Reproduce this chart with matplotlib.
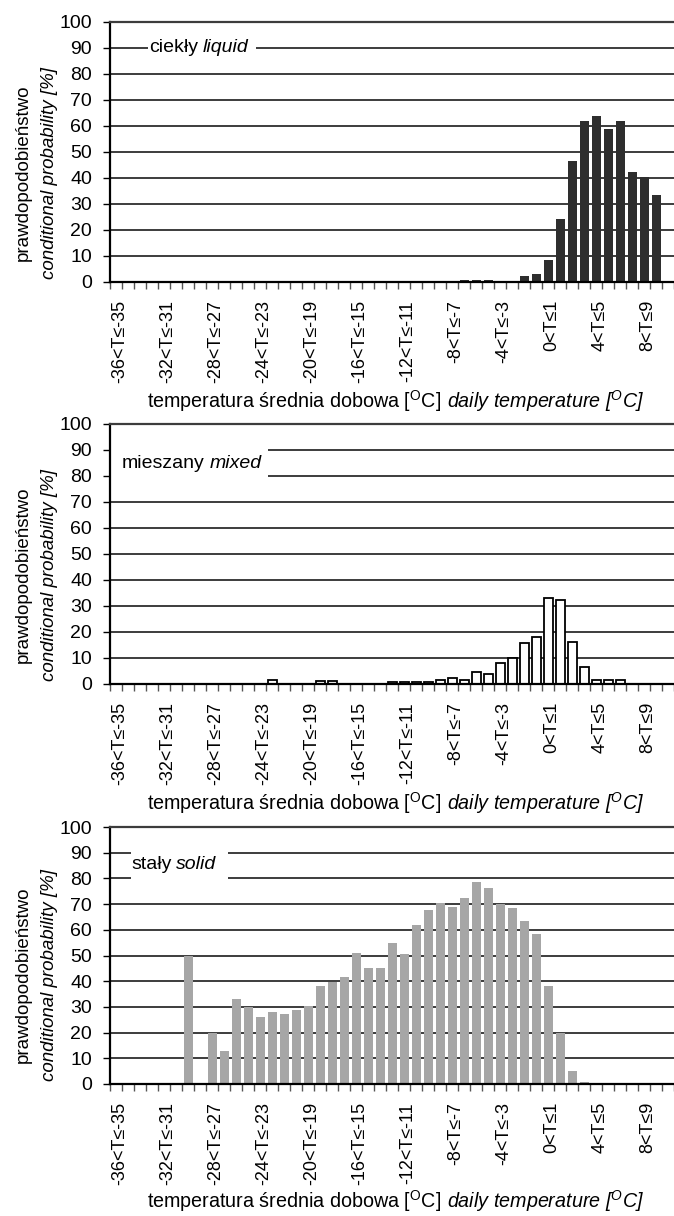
import numpy as np
import matplotlib.pyplot as plt
from matplotlib.patches import Rectangle
from matplotlib.transforms import ScaledTranslation

plt.rcParams['font.family'] = ['Liberation Sans', 'DejaVu Sans']
plt.rcParams['mathtext.fontset'] = 'custom'
plt.rcParams['mathtext.rm'] = 'Liberation Sans'
plt.rcParams['mathtext.it'] = 'Liberation Sans:italic'
plt.rcParams['mathtext.bf'] = 'Liberation Sans:bold'

# temperature classes t<T<=t+1, t = -36 ... 10
bin_starts = list(range(-36, 11))
label_starts = [-36, -32, -28, -24, -20, -16, -12, -8, -4, 0, 4, 8]
tick_labels = [f"{t}<T\u2264{t + 1}" for t in label_starts]

# conditional probability [%] per class
liquid = [0, 0, 0, 0, 0, 0, 0, 0, 0, 0,                      # -36..-27
          0, 0, 0, 0, 0, 0, 0, 0, 0, 0,                      # -26..-17
          0, 0, 0, 0, 0, 0, 0, 0, 0, 0.6,                    # -16..-7
          0.6, 0.6, 0, 0.5, 2.2, 2.9, 8.4, 24.4, 46.4, 61.8,  # -6..3
          63.8, 58.9, 61.8, 42.3, 40.2, 33.4, 0]              # 4..10

mixed = [0, 0, 0, 0, 0, 0, 0, 0, 0, 0,
         0, 0, 0, 1.7, 0, 0, 0, 1.0, 1.0, 0,
         0, 0, 0, 0.9, 0.9, 0.9, 0.9, 1.6, 2.4, 1.6,
         4.6, 3.7, 8.0, 10.0, 15.8, 18.2, 33.0, 32.2, 16.2, 6.5,
         1.4, 1.4, 1.4, 0, 0, 0, 0]

solid = [0, 0, 0, 0, 0, 0, 50, 0, 20, 13,
         33, 29.8, 26.2, 28, 27.4, 28.8, 30.4, 38, 39.7, 41.5,
         50.8, 45, 45, 55, 50.7, 62, 67.6, 70.3, 68.8, 72.4,
         78.6, 76.4, 70.2, 68.3, 63.3, 58.4, 38, 20, 5, 0.7,
         0, 0, 0, 0, 0, 0, 0]

panel_pl = ["ciekły", "mieszany", "stały"]
panel_en = ["liquid", "mixed", "solid"]

ylabel_pl = "prawdopodobieństwo"
ylabel_en = "conditional probability [%]"
xlabel_pl = "temperatura średnia dobowa [$^{\\mathrm{O}}$C] "
xlabel_en = "daily temperature [$^{O}$C]"

W, H = 674, 1216
GRID = '#3c3c3c'


def draw_panel(fig, top, bottom, values, bar_style, name_pl, name_en, box,
               text_xy, xlabel_drop=126):
    ax = fig.add_axes([110 / W, 1 - bottom / H, 564 / W, (bottom - top) / H])
    n = len(bin_starts)
    x = np.arange(n)
    ax.bar(x, values, width=0.75, zorder=2, **bar_style)

    ax.set_xlim(-0.5, n - 0.5)
    ax.set_ylim(0, 100)
    ax.set_yticks(range(0, 101, 10))
    ax.yaxis.grid(True, color=GRID, linewidth=1.4)
    ax.set_axisbelow(True)

    ax.set_xticks([bin_starts.index(t) for t in label_starts])
    ax.set_xticklabels(tick_labels, rotation=90)
    ax.set_xticks(np.arange(-0.5, n, 1), minor=True)
    ax.tick_params(axis='x', which='major', length=0, pad=13, labelsize=13)
    ax.tick_params(axis='x', which='minor', length=5, width=1, color='#555555')
    ax.tick_params(axis='y', length=5, width=1, pad=8, labelsize=14)
    # nudge the rotated labels a little to the right
    shift = ScaledTranslation(4 / 100, 0, fig.dpi_scale_trans)
    for lab in ax.get_xticklabels():
        lab.set_transform(lab.get_transform() + shift)

    ax.spines['right'].set_visible(False)
    ax.spines['top'].set_color(GRID)
    ax.spines['top'].set_linewidth(1.6)
    for s in ['left', 'bottom']:
        ax.spines[s].set_linewidth(1.6)

    # white box over the grid behind the phase name
    x0, x1, y0, y1 = box
    ax.add_patch(Rectangle((x0, y0), x1 - x0, y1 - y0, facecolor='white',
                           edgecolor='none', zorder=2.5))
    t1 = ax.text(text_xy[0], text_xy[1], name_pl, fontsize=14,
                 ha='left', va='center', zorder=3)
    ax.annotate(name_en, xy=(1, 0), xycoords=t1, xytext=(3.5, 0),
                textcoords='offset points', ha='left', va='bottom',
                fontsize=14, style='italic', zorder=3)

    h = bottom - top
    # y label: two rotated lines, second in italics
    ax.text(-87 / 564, 109 / h, ylabel_pl, rotation=90, ha='center',
            va='center', fontsize=13.5, transform=ax.transAxes)
    ax.text(-60 / 564, 109 / h, ylabel_en, rotation=90, ha='center',
            va='center', fontsize=13.5, style='italic', transform=ax.transAxes)

    # x label: upright Polish part then italic English part
    ax.text((443 - 110) / 564, -xlabel_drop / h, xlabel_pl, ha='right',
            va='baseline', fontsize=14.2, transform=ax.transAxes)
    ax.text((447 - 110) / 564, -xlabel_drop / h, xlabel_en, ha='left',
            va='baseline', fontsize=14.2, style='italic', transform=ax.transAxes)
    return ax


def main():
    fig = plt.figure(figsize=(W / 100, H / 100), dpi=100)

    draw_panel(fig, 22, 282, liquid,
               dict(color='#2e2e2e'), panel_pl[0], panel_en[0],
               (2.67, 11.67, 86, 94), (2.75, 90))
    draw_panel(fig, 424, 684, mixed,
               dict(facecolor='white', edgecolor='black', linewidth=1.3),
               panel_pl[1], panel_en[1],
               (-0.5, 12.67, 77, 93), (0.5, 85))
    draw_panel(fig, 827, 1084, solid,
               dict(color='#a6a6a6'), panel_pl[2], panel_en[2],
               (1.25, 9.33, 77, 93), (1.25, 85.5), xlabel_drop=124)

    fig.savefig("out.png", dpi=100)


if __name__ == "__main__":
    main()
